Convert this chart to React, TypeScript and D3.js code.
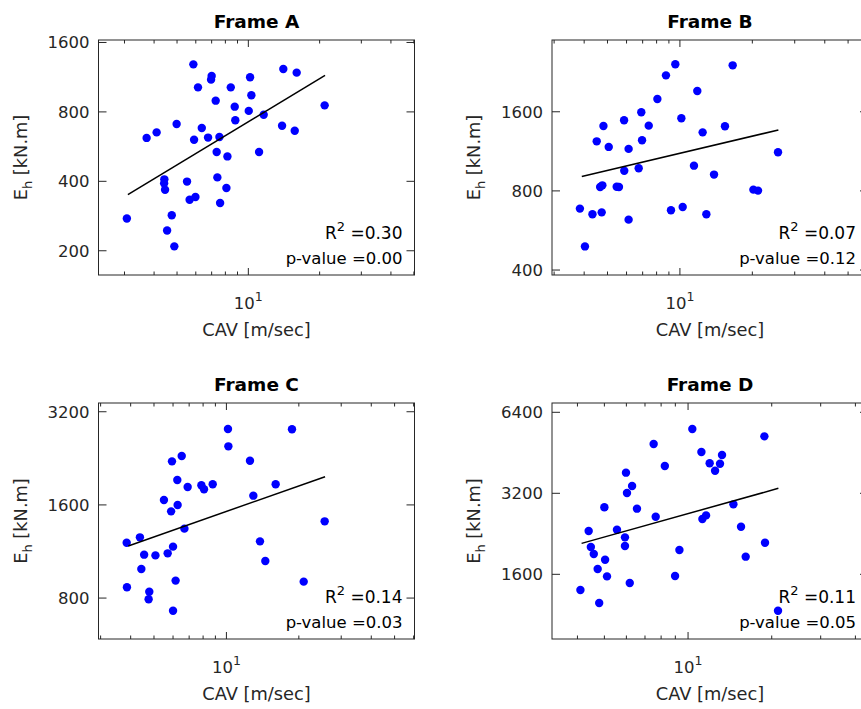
import React from 'react';
import * as d3 from 'd3';

const W = 861;
const H = 709;
const FONT = '"DejaVu Sans", sans-serif';
const AXIS = '#262626';

// Frame A
const cavA = [5.86, 14.05, 16.0, 7.0, 6.96, 10.17, 6.13, 8.43, 10.3, 7.28, 8.76, 21.0, 10.04, 11.61, 8.81, 4.98, 4.1, 3.72, 6.36, 13.88, 15.7, 5.9, 6.76, 7.55, 7.35, 8.16, 11.1, 4.42, 4.41, 4.45, 5.51, 7.4, 8.08, 5.65, 5.98, 7.6, 3.07, 4.75, 4.54, 4.87];
const ehA = [1286, 1227, 1184, 1145, 1104, 1130, 1022, 1022, 944, 895, 843, 854, 808, 778, 736, 709, 652, 617, 681, 697, 663, 606, 619, 623, 536, 513, 536, 408, 392, 368, 399, 416, 374, 333, 342, 322, 276, 285, 245, 209];
const fitA = [[3.1, 350], [21.08, 1153]];

// Frame B
const cavB = [9.57, 16.57, 8.75, 11.81, 8.06, 6.91, 5.86, 10.14, 4.81, 7.42, 15.39, 12.43, 4.51, 6.96, 5.06, 6.12, 25.57, 11.44, 5.87, 6.74, 13.86, 4.76, 4.66, 5.46, 5.58, 20.2, 21.12, 3.84, 4.33, 4.73, 6.12, 9.18, 10.27, 12.88, 4.03];
const ehB = [2425, 2403, 2201, 1920, 1790, 1593, 1485, 1511, 1413, 1417, 1409, 1336, 1235, 1246, 1176, 1156, 1122, 998, 955, 975, 923, 840, 828, 830, 828, 809, 802, 685, 652, 663, 622, 675, 695, 652, 492];
const fitB = [[3.91, 907], [25.66, 1364]];

// Frame C
const cavC = [10.15, 18.73, 10.19, 6.52, 5.94, 12.53, 6.25, 6.9, 7.87, 8.07, 8.77, 16.02, 12.94, 5.5, 6.27, 5.89, 6.69, 25.61, 4.37, 3.85, 13.79, 6.0, 4.55, 5.07, 5.7, 14.51, 4.43, 6.15, 20.95, 3.86, 4.78, 4.75, 6.0];
const ehC = [2814, 2808, 2474, 2302, 2212, 2223, 1926, 1828, 1851, 1797, 1866, 1866, 1714, 1659, 1599, 1525, 1341, 1416, 1257, 1208, 1220, 1173, 1105, 1099, 1116, 1054, 993, 911, 904, 867, 839, 793, 728];
const fitC = [[3.91, 1179], [25.7, 1974]];

// Frame D
const cavD = [10.36, 18.82, 7.52, 11.17, 13.25, 11.96, 13.03, 12.51, 8.25, 5.98, 6.29, 6.03, 6.55, 5.0, 14.56, 7.65, 11.26, 11.61, 15.51, 4.39, 5.55, 5.93, 5.93, 18.92, 4.47, 4.58, 9.31, 5.03, 16.12, 4.73, 5.11, 8.98, 6.17, 4.1, 4.79, 21.07];
const ehD = [5547, 5209, 4880, 4557, 4441, 4136, 4123, 3883, 4042, 3818, 3406, 3208, 2806, 2839, 2912, 2619, 2568, 2649, 2405, 2317, 2343, 2195, 2038, 2097, 2021, 1904, 1970, 1813, 1861, 1674, 1572, 1577, 1485, 1399, 1252, 1172];
const fitD = [[4.14, 2085], [21.13, 3339]];

const xTicks = [3, 4, 5, 6, 7, 8, 9, 10, 20, 30, 40, 50, 60];
const yTicksA = [200, 400, 800, 1600];
const yTicksB = [400, 800, 1600];
const yTicksC = [800, 1600, 3200];
const yTicksD = [1600, 3200, 6400];

const r2Labels = ['0.30', '0.07', '0.14', '0.11'];
const pLabels = ['0.00', '0.12', '0.03', '0.05'];

const panels = [
  { title: 'Frame A', cav: cavA, eh: ehA, fit: fitA, xDom: [2.33, 50.3], yDom: [157, 1640], yTicks: yTicksA, r2: r2Labels[0], p: pLabels[0], left: 98.5, top: 40, h: 235 },
  { title: 'Frame B', cav: cavB, eh: ehB, fit: fitB, xDom: [2.94, 60.5], yDom: [383, 3000], yTicks: yTicksB, r2: r2Labels[1], p: pLabels[1], left: 552, top: 40, h: 235 },
  { title: 'Frame C', cav: cavC, eh: ehC, fit: fitC, xDom: [2.94, 60.5], yDom: [590, 3415], yTicks: yTicksC, r2: r2Labels[2], p: pLabels[2], left: 98.5, top: 403, h: 236 },
  { title: 'Frame D', cav: cavD, eh: ehD, fit: fitD, xDom: [3.24, 44.4], yDom: [920, 6930], yTicks: yTicksD, r2: r2Labels[3], p: pLabels[3], left: 552, top: 403, h: 236 },
];

const PW = 316;

function Panel({ cfg }) {
  const { left, top, h } = cfg;
  const right = left + PW;
  const bottom = top + h;
  const x = d3.scaleLog().domain(cfg.xDom).range([left, right]);
  const y = d3.scaleLog().domain(cfg.yDom).range([bottom, top]);
  const line = d3.line().x((d) => x(d[0])).y((d) => y(d[1]));
  const xt = xTicks.filter((t) => t >= cfg.xDom[0] && t <= cfg.xDom[1] * 1.001);
  const midX = (left + right) / 2;
  const midY = (top + bottom) / 2;

  return (
    <g>
      {cfg.cav.map((c, i) => (
        <circle key={i} cx={x(c)} cy={y(cfg.eh[i])} r={4.2} fill="#0000ff" />
      ))}
      <path d={line(cfg.fit)} fill="none" stroke="#000" strokeWidth={1.5} />

      {/* box */}
      <rect x={left} y={top} width={PW} height={h} fill="none" stroke={AXIS} strokeWidth={1} />

      {/* x ticks, bottom and top */}
      {xt.map((t) => {
        const len = t === 10 ? 7 : 3.5;
        const px = x(t);
        return (
          <g key={t}>
            <line x1={px} x2={px} y1={bottom} y2={bottom - len} stroke={AXIS} strokeWidth={1} />
            <line x1={px} x2={px} y1={top} y2={top + len} stroke={AXIS} strokeWidth={1} />
          </g>
        );
      })}
      <text x={x(10)} y={bottom + 33.5} textAnchor="middle" fontFamily={FONT} fontSize={16.5} fill={AXIS}>
        10<tspan dy={-8} fontSize={12.5}>1</tspan>
      </text>

      {/* y ticks */}
      {cfg.yTicks.map((t) => {
        const py = y(t);
        return (
          <g key={t}>
            <line x1={left} x2={left + 8} y1={py} y2={py} stroke={AXIS} strokeWidth={1} />
            <line x1={right} x2={right - 8} y1={py} y2={py} stroke={AXIS} strokeWidth={1} />
            <text x={left - 9} y={py + 6} textAnchor="end" fontFamily={FONT} fontSize={16.5} fill={AXIS}>
              {t}
            </text>
          </g>
        );
      })}

      {/* labels */}
      <text x={midX} y={top - 12.5} textAnchor="middle" fontFamily={FONT} fontSize={18.5} fontWeight="bold" fill="#000">
        {cfg.title}
      </text>
      <text x={midX} y={bottom + 61} textAnchor="middle" fontFamily={FONT} fontSize={17.8} fill={AXIS}>
        CAV [m/sec]
      </text>
      <text transform={`translate(${left - 72},${midY}) rotate(-90)`} textAnchor="middle" fontFamily={FONT} fontSize={17.8} fill={AXIS}>
        E<tspan dy={5} fontSize={13}>h</tspan>
        <tspan dy={-5}> [kN.m]</tspan>
      </text>

      {/* stats */}
      <text x={right - 12} y={bottom - 36.5} textAnchor="end" fontFamily={FONT} fontSize={17} fill="#000">
        R<tspan dy={-8} fontSize={13}>2</tspan>
        <tspan dy={8}> ={cfg.r2}</tspan>
      </text>
      <text x={right - 12} y={bottom - 11} textAnchor="end" fontFamily={FONT} fontSize={16.5} fill="#000">
        p-value ={cfg.p}
      </text>
    </g>
  );
}

export default function App() {
  return (
    <svg width={W} height={H} style={{ position: 'absolute', left: 0, top: 0, background: '#fff' }}>
      {panels.map((p) => (
        <Panel key={p.title} cfg={p} />
      ))}
    </svg>
  );
}
